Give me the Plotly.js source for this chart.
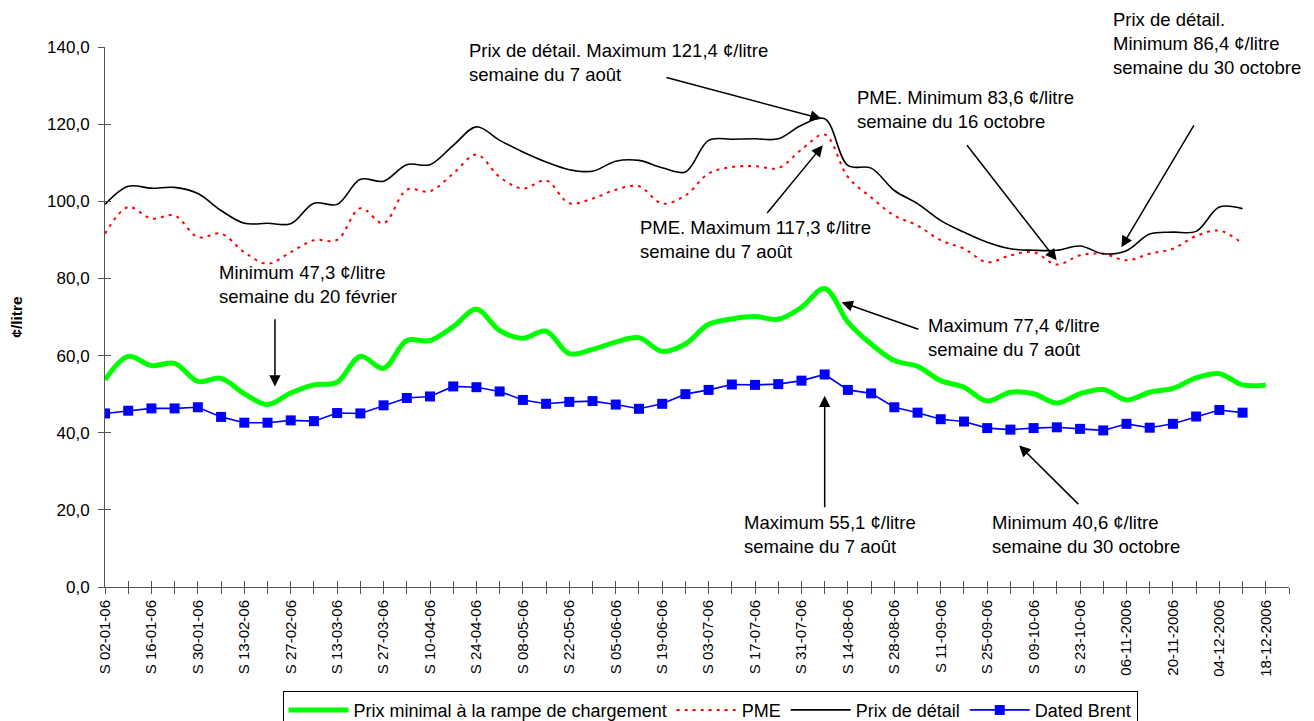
<!DOCTYPE html>
<html>
<head>
<meta charset="utf-8">
<script src="https://cdn.plot.ly/plotly-3.0.1.min.js"></script>
<style>html,body{margin:0;padding:0;background:#fff;}#chart{width:1314px;height:721px;}</style>
</head>
<body>
<div id="chart"></div>
<script>
// Tick labels (every other week)
const weekLabels = ["S 02-01-06","S 16-01-06","S 30-01-06","S 13-02-06","S 27-02-06","S 13-03-06","S 27-03-06","S 10-04-06","S 24-04-06","S 08-05-06","S 22-05-06","S 05-06-06","S 19-06-06","S 03-07-06","S 17-07-06","S 31-07-06","S 14-08-06","S 28-08-06","S 11-09-06","S 25-09-06","S 09-10-06","S 23-10-06","06-11-2006","20-11-2006","04-12-2006","18-12-2006"];

// Series values (¢/litre), one per week starting 02-01-06
const prixMinimal = [53.7,59.8,57.4,58.0,53.3,54.1,50.1,47.3,50.3,52.4,53.1,59.8,56.7,63.9,63.9,67.5,72.0,66.5,64.5,66.3,60.5,61.6,63.5,64.6,61.1,63.0,68.1,69.5,70.1,69.4,72.5,77.4,68.7,63.0,58.7,57.2,53.5,51.8,48.2,50.5,50.1,47.7,50.1,51.2,48.5,50.5,51.5,54.2,55.3,52.4,52.4];
const pme = [91.6,98.5,95.5,96.3,90.7,91.6,86.8,83.8,86.8,89.9,90.0,98.2,94.3,103.0,102.6,107.2,112.1,106.3,103.3,105.4,99.5,100.7,103.0,103.9,99.4,101.5,107.2,108.9,109.1,108.6,113.4,117.3,106.3,101.0,96.3,93.7,89.9,87.7,84.2,86.0,86.8,83.6,86.0,86.4,84.7,86.4,87.7,91.0,92.4,89.0];
const prixDetail = [99.2,103.9,103.4,103.6,102.0,97.6,94.3,94.3,94.2,99.5,99.2,105.7,105.2,109.5,109.5,114.5,119.3,115.8,112.8,110.2,108.2,107.8,110.4,110.6,108.7,107.6,115.8,116.1,116.2,116.2,119.7,121.4,109.3,108.6,102.8,99.4,95.0,92.0,89.4,87.7,87.3,87.3,88.4,86.4,87.2,91.5,92.0,92.2,98.5,98.1];
const datedBrent = [45.0,45.7,46.3,46.3,46.6,44.1,42.6,42.6,43.2,43.0,45.1,45.0,47.1,49.0,49.4,52.0,51.8,50.7,48.5,47.5,48.0,48.2,47.3,46.2,47.5,50.0,51.1,52.5,52.4,52.6,53.5,55.1,51.1,50.2,46.6,45.2,43.5,42.9,41.2,40.8,41.2,41.4,41.0,40.6,42.3,41.3,42.3,44.2,45.9,45.2];

const nWeeks = 52;
const yMax = 140;

// Annotation texts and arrows (x = week index, y = ¢/litre)
const noteTexts = [
  {x:15.59, y:136.0, text:"Prix de détail. Maximum 121,4 ¢/litre<br>semaine du 7 août"},
  {x:22.95, y:90.0,  text:"PME. Maximum 117,3 ¢/litre<br>semaine du 7 août"},
  {x:32.3,  y:123.7, text:"PME. Minimum 83,6 ¢/litre<br>semaine du 16 octobre"},
  {x:43.32, y:141.0, text:"Prix de détail.<br>Minimum 86,4 ¢/litre<br>semaine du 30 octobre"},
  {x:4.82,  y:78.3,  text:"Minimum 47,3 ¢/litre<br>semaine du 20 février"},
  {x:35.36, y:64.7,  text:"Maximum 77,4 ¢/litre<br>semaine du 7 août"},
  {x:27.43, y:13.6,  text:"Maximum 55,1 ¢/litre<br>semaine du 7 août"},
  {x:38.11, y:13.6,  text:"Minimum 40,6 ¢/litre<br>semaine du 30 octobre"}
];
const noteArrows = [
  {x:30.86, y:121.4, ax:24.12, ay:132.2},
  {x:30.92, y:114.5, ax:28.47, ay:96.6},
  {x:40.99, y:84.7,  ax:37.08, ay:114.9},
  {x:43.78, y:88.1,  ax:46.94, ay:120.1},
  {x:7.32,  y:52.0,  ax:7.32,  ay:69.8},
  {x:31.73, y:73.8,  ax:35.1,  ay:66.7},
  {x:31.0,  y:49.6,  ax:31.0,  ay:20.3},
  {x:39.38, y:36.7,  ax:41.99, ay:21.1}
];

const idx = arr => arr.map((_, i) => i);
const allTicks = Array.from({length: nWeeks}, (_, i) => i);
const allText = allTicks.map(i => (i % 2 === 0 && weekLabels[i/2]) ? weekLabels[i/2] : "");

const FONT = "Liberation Sans, Arial, sans-serif";
const AX = "#555555";

const traces = [
  {name:"Prix minimal à la rampe de chargement", x:idx(prixMinimal), y:prixMinimal, mode:"lines",
   line:{color:"#00FF00", width:5, shape:"spline", smoothing:1}},
  {name:"PME", x:idx(pme), y:pme, mode:"lines",
   line:{color:"#FF0000", width:2, dash:"3px,5px", shape:"spline", smoothing:1}},
  {name:"Prix de détail", x:idx(prixDetail), y:prixDetail, mode:"lines",
   line:{color:"#000000", width:1.6, shape:"spline", smoothing:1}},
  {name:"Dated Brent", x:idx(datedBrent), y:datedBrent, mode:"lines+markers",
   line:{color:"#0000FF", width:1.6}, marker:{symbol:"square", size:10, color:"#0000FF"}},
  {x:[], y:[], xaxis:"x2", yaxis:"y2", showlegend:false, hoverinfo:"skip"}
];

const annotations = [];
noteArrows.forEach(a => annotations.push({
  x:a.x, y:a.y, ax:a.ax, ay:a.ay, xref:"x", yref:"y", axref:"x", ayref:"y",
  text:"", showarrow:true, arrowhead:2, arrowsize:1.5, arrowwidth:1.5, arrowcolor:"#000", standoff:0
}));
noteTexts.forEach(t => annotations.push({
  x:t.x/(nWeeks-1), y:t.y/yMax, xref:"paper", yref:"paper", text:t.text, showarrow:false,
  xanchor:"left", yanchor:"middle", align:"left", font:{size:18.5, color:"#000", family:FONT}
}));

const layout = {
  width:1314, height:721,
  margin:{l:105, r:25, t:47, b:134, pad:0, autoexpand:false},
  paper_bgcolor:"#fff", plot_bgcolor:"#fff",
  separators:",.",
  font:{family:FONT, color:"#000"},
  showlegend:true,
  legend:{orientation:"h", x:0.511, xanchor:"center", y:-0.192, yanchor:"top", itemwidth:60,
          bordercolor:"#000", borderwidth:1, bgcolor:"#fff", font:{size:18, family:FONT}},
  xaxis:{range:[0, nWeeks-1], tickmode:"array", tickvals:allTicks, ticktext:allText, automargin:false,
         tickangle:-90, ticks:"outside", ticklen:6, tickcolor:AX, showline:true, linecolor:AX,
         linewidth:1, showgrid:false, zeroline:false, tickfont:{size:15}},
  yaxis:{range:[0,yMax], dtick:20, tickformat:".1f", ticks:"outside", ticklen:6, tickcolor:AX,
         showline:true, linecolor:AX, linewidth:1, showgrid:false, zeroline:false, automargin:false,
         tickfont:{size:17}, ticklabelstandoff:5,
         title:{text:"<b>¢/litre</b>", font:{size:15.5}, standoff:20}},
  xaxis2:{overlaying:"x", anchor:"y2", range:[0, nWeeks-1], tickmode:"array", tickvals:allTicks,
          ticks:"inside", ticklen:6, tickcolor:AX, showticklabels:false, showline:false,
          showgrid:false, zeroline:false, automargin:false},
  yaxis2:{overlaying:"y", anchor:"x2", range:[0,yMax], dtick:20, ticks:"inside", ticklen:6,
          tickcolor:AX, showticklabels:false, showline:false, showgrid:false, zeroline:false, automargin:false},
  annotations:annotations
};

Plotly.newPlot("chart", traces, layout, {displayModeBar:false, staticPlot:true});
</script>
</body>
</html>
